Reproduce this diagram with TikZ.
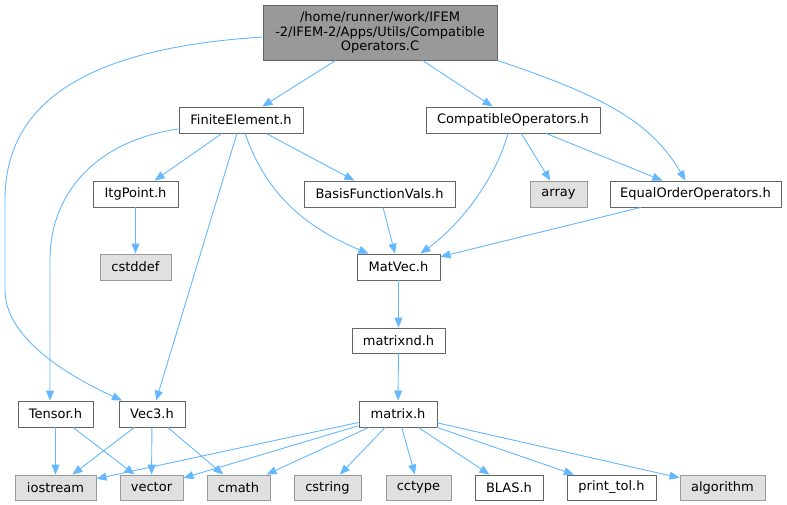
\documentclass[tikz,border=0pt]{standalone}
\usepackage{fontspec}
\setmainfont{DejaVu Sans}
\usetikzlibrary{arrows.meta}
\definecolor{edgeblue}{HTML}{63B8FF}
\definecolor{boxline}{HTML}{666666}
\definecolor{sysline}{HTML}{999999}
\definecolor{sysfill}{HTML}{E0E0E0}
\definecolor{mainfill}{HTML}{999999}
\begin{document}
\begin{tikzpicture}[x=1pt,y=-1pt,
    file/.style={draw=boxline,fill=white,line width=0.9pt,inner sep=0pt,
        minimum height=26pt,font=\fontsize{13}{14.5}\selectfont},
    sys/.style={file,draw=sysline,fill=sysfill,minimum height=25pt},
    inc/.style={draw=edgeblue,line width=0.9pt,-{Triangle[length=10pt,width=8pt]}}]
        \useasboundingbox (0,0) rectangle (787,505);
        %% Source file
        \node[file,fill=mainfill,align=center,minimum width=234pt,minimum height=55pt] (main) at (380,32.5)
            {/home/runner/work/IFEM\\-2/IFEM-2/Apps/Utils/Compatible\\Operators.C};
        %% Headers
        \node[file,minimum width=124pt] (fe) at (241,120) {FiniteElement.h};
        \node[file,minimum width=174pt] (cop) at (513,120) {CompatibleOperators.h};
        \node[file,minimum width=85pt] (itg) at (135.5,194) {ItgPoint.h};
        \node[file,minimum width=151pt] (bfv) at (379.5,194) {BasisFunctionVals.h};
        \node[sys,minimum width=57pt,minimum height=26pt] (arr) at (558.5,194) {array};
        \node[file,minimum width=171pt] (eoo) at (695.5,194) {EqualOrderOperators.h};
        \node[sys,minimum width=71pt,minimum height=26pt] (cstddef) at (135.5,267) {cstddef};
        \node[file,minimum width=83pt] (matvec) at (398.5,267) {MatVec.h};
        \node[file,minimum width=93pt,minimum height=25pt] (matnd) at (398.5,340.5) {matrixnd.h};
        \node[file,minimum width=75pt] (tensor) at (55.5,414) {Tensor.h};
        \node[file,minimum width=66pt] (vec) at (152,414) {Vec3.h};
        \node[file,minimum width=78pt] (mat) at (398,414) {matrix.h};
        %% Bottom row
        \node[sys,minimum width=81pt] (iostream) at (55.5,487.5) {iostream};
        \node[sys,minimum width=63pt] (vector) at (151.5,487.5) {vector};
        \node[sys,minimum width=63pt] (cmath) at (238.5,487.5) {cmath};
        \node[sys,minimum width=67pt] (cstring) at (327.5,487.5) {cstring};
        \node[sys,minimum width=65pt] (cctype) at (418.5,487.5) {cctype};
        \node[file,minimum width=68pt,minimum height=25pt] (blas) at (509,487.5) {BLAS.h};
        \node[file,minimum width=89pt,minimum height=25pt] (ptol) at (611.5,487.5) {print\_tol.h};
        \node[sys,minimum width=85pt] (algo) at (722.5,487.5) {algorithm};
        %% Includes
        \draw[inc] (main) -- (fe);
        \draw[inc] (main) -- (cop);
        \draw[inc] ([yshift=-4.5pt]main.west) .. controls (90,48) and (5,100) .. (5,200)
            -- (5,290) .. controls (5,335) and (60,372) .. ([xshift=-30pt]vec.north);
        \draw[inc] (main.south east) .. controls (600,95) and (650,120) .. ([xshift=-10pt]eoo.north);
        \draw[inc] (fe) -- (itg);
        \draw[inc] ([yshift=-9pt]fe.west) .. controls (100,140) and (50,190) .. (50,260) -- ([xshift=-5.5pt]tensor.north);
        \draw[inc] (fe) -- (vec);
        \draw[inc] ([xshift=4pt]fe.south) .. controls (265,190) and (300,225) .. ([xshift=-30pt]matvec.north);
        \draw[inc] (fe) -- (bfv);
        \draw[inc] (itg) -- (cstddef);
        \draw[inc] (bfv) -- (matvec);
        \draw[inc] ([xshift=-5pt]cop.south) .. controls (495,180) and (460,225) .. ([xshift=22pt]matvec.north);
        \draw[inc] (cop) -- (arr);
        \draw[inc] (cop) -- (eoo);
        \draw[inc] (eoo) -- (matvec);
        \draw[inc] (matvec) -- (matnd);
        \draw[inc] (matnd) -- (mat);
        \draw[inc] (tensor) -- (iostream);
        \draw[inc] (tensor) -- (vector);
        \draw[inc] (vec) -- (iostream);
        \draw[inc] (vec) -- (vector);
        \draw[inc] (vec) -- (cmath);
        \foreach \dst in {iostream,vector,cmath,cstring,cctype,blas,ptol,algo}
            \draw[inc] (mat) -- (\dst);
    \end{tikzpicture}
\end{document}
